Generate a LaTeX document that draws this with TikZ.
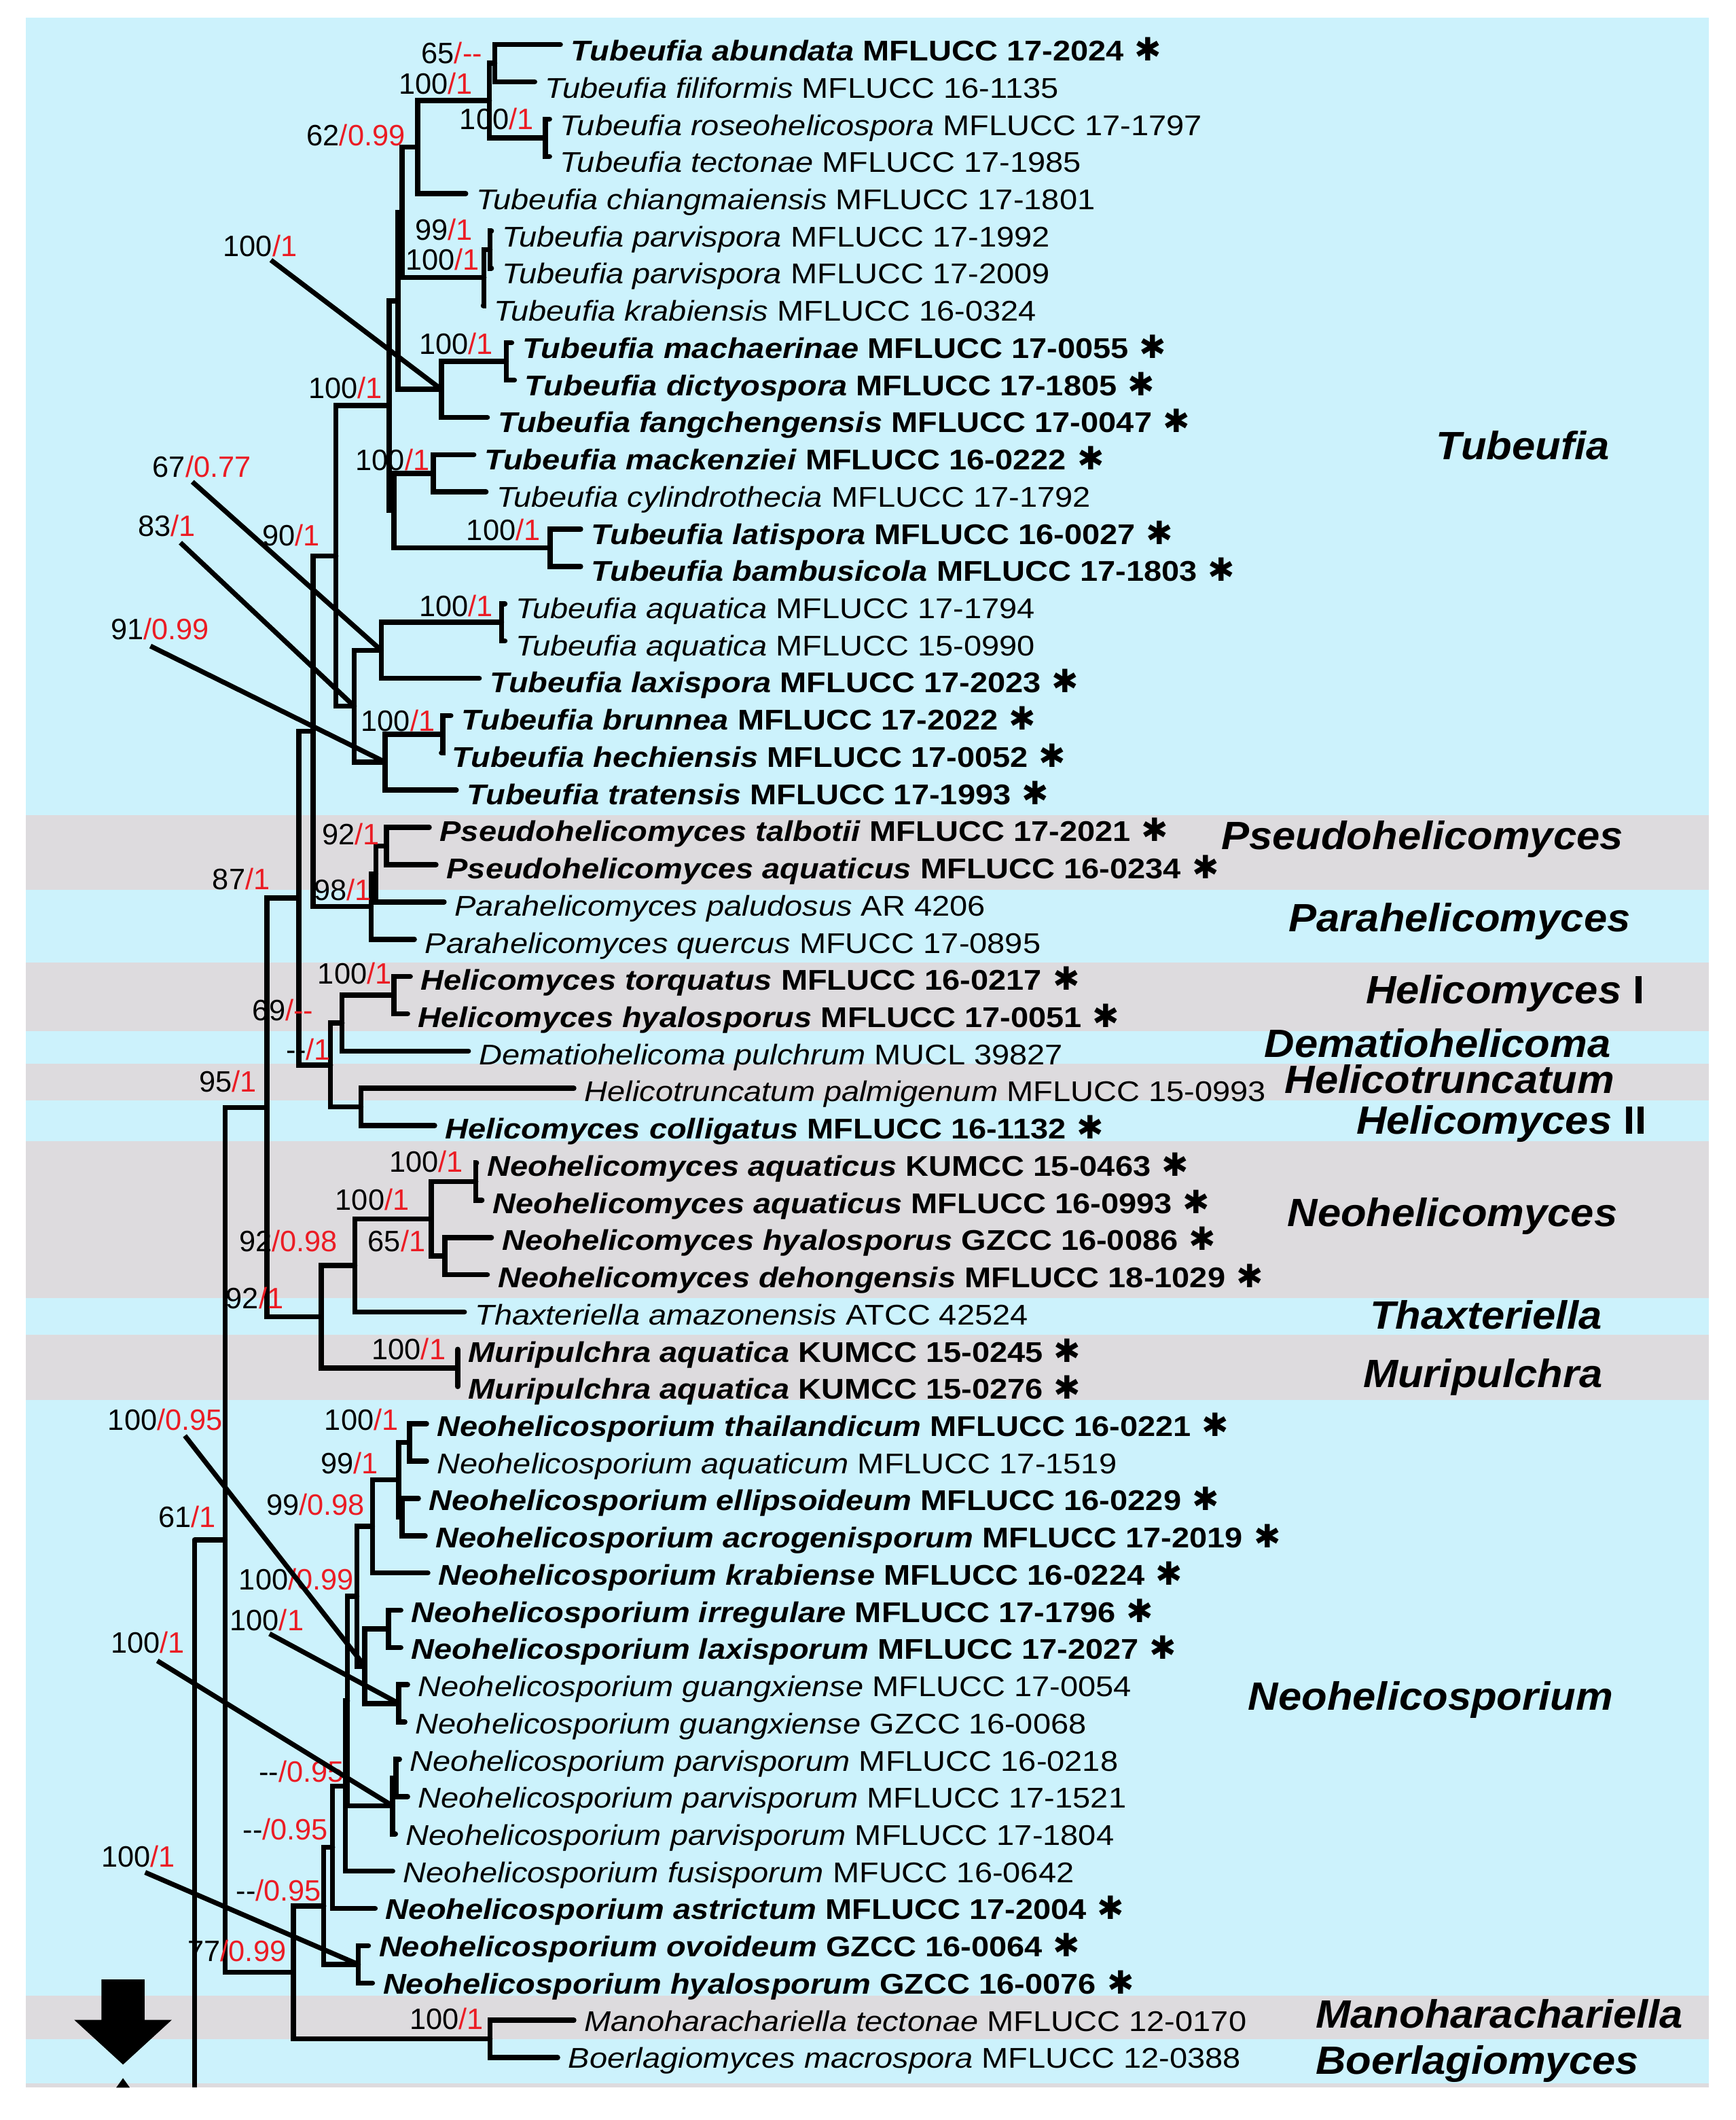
\documentclass[tikz,border=0pt]{standalone}
\usepackage{fontspec}
\setmainfont{Liberation Sans}
\newfontfamily\taxfont[FakeStretch=1.12]{Liberation Sans}
\newfontfamily\cladefont[FakeStretch=1.06]{Liberation Sans}
\newfontfamily\starfont{DejaVu Sans}
\usetikzlibrary{calc}
\definecolor{bandblue}{RGB}{204,242,252}
\definecolor{bandgray}{RGB}{221,219,222}
\definecolor{supred}{RGB}{235,28,36}
\newcommand{\rp}[1]{\textcolor{supred}{#1}}

\begin{document}
\begin{tikzpicture}[x=0.2mm, y=-0.2mm,
    branch/.style={line width=0.76mm, line cap=round},
    leader/.style={line width=0.72mm},
    taxon/.style={inner sep=0pt, anchor=base west, font=\taxfont\fontsize{12}{14}\selectfont},
    strong/.style={taxon, font=\taxfont\fontsize{12}{14}\selectfont\bfseries},
    support/.style={inner sep=0pt, anchor=east, font=\fontsize{12.4}{14}\selectfont},
    clade/.style={inner sep=0pt, anchor=base west, font=\cladefont\fontsize{16.6}{18}\selectfont\bfseries\itshape}]
  \useasboundingbox (0,0) rectangle (1284,1568);
  \fill[white] (0,0) rectangle (1284,1568);

  % genus bands
  \fill[bandblue] (19,13) rectangle (1264,1544);
  \foreach \ya/\yb in {603/658, 712/762.5, 787/814, 844/960, 987/1035.5, 1476/1508, 1540.6/1544}
    \fill[bandgray] (19,\ya) rectangle (1264,\yb);

  % taxa
  \foreach \n/\lx/\spec/\strain/\bo in {
      1/422/Tubeufia abundata/MFLUCC 17-2024/1,
      2/403/Tubeufia filiformis/MFLUCC 16-1135/0,
      3/414/Tubeufia roseohelicospora/MFLUCC 17-1797/0,
      4/414/Tubeufia tectonae/MFLUCC 17-1985/0,
      5/352/Tubeufia chiangmaiensis/MFLUCC 17-1801/0,
      6/371/Tubeufia parvispora/MFLUCC 17-1992/0,
      7/371/Tubeufia parvispora/MFLUCC 17-2009/0,
      8/365/Tubeufia krabiensis/MFLUCC 16-0324/0,
      9/386/Tubeufia machaerinae/MFLUCC 17-0055/1,
      10/388/Tubeufia dictyospora/MFLUCC 17-1805/1,
      11/368/Tubeufia fangchengensis/MFLUCC 17-0047/1,
      12/358/Tubeufia mackenziei/MFLUCC 16-0222/1,
      13/367/Tubeufia cylindrothecia/MFLUCC 17-1792/0,
      14/437/Tubeufia latispora/MFLUCC 16-0027/1,
      15/437/Tubeufia bambusicola/MFLUCC 17-1803/1,
      16/381/Tubeufia aquatica/MFLUCC 17-1794/0,
      17/381/Tubeufia aquatica/MFLUCC 15-0990/0,
      18/362/Tubeufia laxispora/MFLUCC 17-2023/1,
      19/341/Tubeufia brunnea/MFLUCC 17-2022/1,
      20/334/Tubeufia hechiensis/MFLUCC 17-0052/1,
      21/345/Tubeufia tratensis/MFLUCC 17-1993/1,
      22/325/Pseudohelicomyces talbotii/MFLUCC 17-2021/1,
      23/330/Pseudohelicomyces aquaticus/MFLUCC 16-0234/1,
      24/336/Parahelicomyces paludosus/AR 4206/0,
      25/314/Parahelicomyces quercus/MFUCC 17-0895/0,
      26/311/Helicomyces torquatus/MFLUCC 16-0217/1,
      27/309/Helicomyces hyalosporus/MFLUCC 17-0051/1,
      28/354/Dematiohelicoma pulchrum/MUCL 39827/0,
      29/432/Helicotruncatum palmigenum/MFLUCC 15-0993/0,
      30/329/Helicomyces colligatus/MFLUCC 16-1132/1,
      31/360/Neohelicomyces aquaticus/KUMCC 15-0463/1,
      32/364/Neohelicomyces aquaticus/MFLUCC 16-0993/1,
      33/371/Neohelicomyces hyalosporus/GZCC 16-0086/1,
      34/368/Neohelicomyces dehongensis/MFLUCC 18-1029/1,
      35/351/Thaxteriella amazonensis/ATCC 42524/0,
      36/346/Muripulchra aquatica/KUMCC 15-0245/1,
      37/346/Muripulchra aquatica/KUMCC 15-0276/1,
      38/323/Neohelicosporium thailandicum/MFLUCC 16-0221/1,
      39/323/Neohelicosporium aquaticum/MFLUCC 17-1519/0,
      40/317/Neohelicosporium ellipsoideum/MFLUCC 16-0229/1,
      41/322/Neohelicosporium acrogenisporum/MFLUCC 17-2019/1,
      42/324/Neohelicosporium krabiense/MFLUCC 16-0224/1,
      43/304/Neohelicosporium irregulare/MFLUCC 17-1796/1,
      44/304/Neohelicosporium laxisporum/MFLUCC 17-2027/1,
      45/309/Neohelicosporium guangxiense/MFLUCC 17-0054/0,
      46/307/Neohelicosporium guangxiense/GZCC 16-0068/0,
      47/303/Neohelicosporium parvisporum/MFLUCC 16-0218/0,
      48/309/Neohelicosporium parvisporum/MFLUCC 17-1521/0,
      49/300/Neohelicosporium parvisporum/MFLUCC 17-1804/0,
      50/298/Neohelicosporium fusisporum/MFUCC 16-0642/0,
      51/285/Neohelicosporium astrictum/MFLUCC 17-2004/1,
      52/280/Neohelicosporium ovoideum/GZCC 16-0064/1,
      53/283/Neohelicosporium hyalosporum/GZCC 16-0076/1,
      54/432/Manoharachariella tectonae/MFLUCC 12-0170/0,
      55/420/Boerlagiomyces macrospora/MFLUCC 12-0388/0}{
    \pgfmathsetmacro\ly{33+(\n-1)*27.57}
    \pgfmathsetmacro\by{\ly+12-0.075*(\n-1)}
    \coordinate (l\n) at (\lx-7.5,\ly);
    \ifnum\bo=1
      \node[strong] (t\n) at (\lx,\by) {\textit{\spec} \strain\hspace{1.6mm}{\starfont\fontsize{13.5}{14}\selectfont ✱}};
    \else
      \node[taxon] (t\n) at (\lx,\by) {\textit{\spec} \strain};
    \fi
  }

  % internal nodes
  \coordinate (nA) at (366,46.79);
  \coordinate (nB) at (403.5,101.93);
  \coordinate (nC) at (362,74.36);
  \coordinate (nD) at (309,108.82);
  \coordinate (nE) at (362.5,184.64);
  \coordinate (nF) at (358,205.3);
  \coordinate (nU1) at (297.5,157.06);
  \coordinate (nG) at (374.5,267.35);
  \coordinate (nH) at (326.5,288);
  \coordinate (nU2) at (294.5,222.5);
  \coordinate (nI) at (320.5,350.05);
  \coordinate (nJ) at (407,405.2);
  \coordinate (nL) at (291.5,377.6);
  \coordinate (nT) at (288,300.05);
  \coordinate (nK) at (371,460.3);
  \coordinate (nM) at (282,481);
  \coordinate (nN) at (327.5,543.05);
  \coordinate (nO) at (285,563.7);
  \coordinate (nP) at (262,522.35);
  \coordinate (nQ) at (248.5,411.2);
  \coordinate (nR) at (286,625.75);
  \coordinate (nS) at (278,646.4);
  \coordinate (nV) at (274.5,670.5);
  \coordinate (nW) at (231.5,540.9);
  \coordinate (nX) at (291.5,736);
  \coordinate (nY) at (253,756.7);
  \coordinate (nZ) at (267,818.7);
  \coordinate (nAA) at (244.5,787.7);
  \coordinate (nAB) at (221,664.3);
  \coordinate (nAC) at (352,873.9);
  \coordinate (nAD) at (329,929);
  \coordinate (nAE) at (319,901.5);
  \coordinate (nAF) at (262.5,935.9);
  \coordinate (nAG) at (338.5,1011.7);
  \coordinate (nAH) at (237.5,973.8);
  \coordinate (nAI) at (197.5,819.05);
  \coordinate (nAJ) at (303,1066.9);
  \coordinate (nAK) at (297.5,1122);
  \coordinate (nAL) at (295,1094.45);
  \coordinate (nAM) at (275.5,1128.9);
  \coordinate (nAN) at (287.5,1204.7);
  \coordinate (nAO) at (295,1259.9);
  \coordinate (nAP) at (269.8,1232.3);
  \coordinate (nAQ) at (264,1180.6);
  \coordinate (nAR) at (293,1315);
  \coordinate (nAS) at (290.5,1335.7);
  \coordinate (nAT) at (257,1258.1);
  \coordinate (nAU) at (255.5,1321);
  \coordinate (nAV) at (246,1366.25);
  \coordinate (nAW) at (265,1452.9);
  \coordinate (nAX) at (239.5,1409.6);
  \coordinate (nAY) at (362.5,1508);
  \coordinate (nAZ) at (217,1458.8);
  \coordinate (nBA) at (166.5,1138.9);
  \coordinate (rt) at (144,1138.9);
  \coordinate (rtend) at (144,1544);

  % branches
  \foreach \p/\c in {nA/l1, nA/l2, nB/l3, nB/l4, nC/nA, nC/nB, nD/nC, nD/l5,
      nE/l6, nE/l7, nF/nE, nF/l8, nU1/nD, nU1/nF, nG/l9, nG/l10, nH/nG, nH/l11,
      nU2/nU1, nU2/nH, nI/l12, nI/l13, nJ/l14, nJ/l15, nL/nI, nL/nJ, nT/nU2, nT/nL,
      nK/l16, nK/l17, nM/nK, nM/l18, nN/l19, nN/l20, nO/nN, nO/l21, nP/nM, nP/nO,
      nQ/nT, nQ/nP, nR/l22, nR/l23, nS/nR, nS/l24, nV/nS, nV/l25, nW/nQ, nW/nV,
      nX/l26, nX/l27, nY/nX, nY/l28, nZ/l29, nZ/l30, nAA/nY, nAA/nZ, nAB/nW, nAB/nAA,
      nAC/l31, nAC/l32, nAD/l33, nAD/l34, nAE/nAC, nAE/nAD, nAF/nAE, nAF/l35,
      nAG/l36, nAG/l37, nAH/nAF, nAH/nAG, nAI/nAB, nAI/nAH,
      nAJ/l38, nAJ/l39, nAK/l40, nAK/l41, nAL/nAJ, nAL/nAK, nAM/nAL, nAM/l42,
      nAN/l43, nAN/l44, nAO/l45, nAO/l46, nAP/nAN, nAP/nAO, nAQ/nAM, nAQ/nAP,
      nAR/l47, nAR/l48, nAS/nAR, nAS/l49, nAT/nAQ, nAT/nAS, nAU/nAT, nAU/l50,
      nAV/nAU, nAV/l51, nAW/l52, nAW/l53, nAX/nAV, nAX/nAW, nAY/l54, nAY/l55,
      nAZ/nAX, nAZ/nAY, nBA/nAI, nBA/nAZ}
    \draw[branch] (\p) |- (\c);
  \draw[branch] (nBA) -- (rt);
  \draw[branch, line cap=butt] (rt) -- (rtend);

  % support values
  \foreach \nm/\rx/\cy/\bk/\rd in {
      sA/357/39/65/{-{}-}, sC/350/62/100/1, sB/395/88/100/1, sD/300/100/62/0.99,
      sE/350/170/99/1, sF/355/192/100/1, sH/220/182/100/1, sG/365/254/100/1,
      sT/283/287/100/1, sI/318/340/100/1, sM/186/345/67/0.77, sP/145/389/83/1,
      sQ/237/396/90/1, sJ/400/392/100/1, sK/365/448/100/1, sO/155/465/91/0.99,
      sN/322/533/100/1, sR/281/617/92/1, sAB/200/650/87/1, sV/275/658/98/1,
      sX/290/720/100/1, sY/232/747/69/{-{}-}, sAA/245/776/{-{}-}/1, sAI/190/800/95/1,
      sAC/343/859/100/1, sAE/303/887/100/1, sAF/250/918/92/0.98, sAD/315/918/65/1,
      sAH/210/960/92/1, sAG/330/998/100/1, sAP/165/1050/100/0.95, sAJ/295/1050/100/1,
      sAL/280/1082/99/1, sBA/160/1122/61/1, sAM/270/1113/99/0.98, sAQ/262/1168/100/0.99,
      sAO/225/1198/100/1, sAS/137/1215/100/1, sAU/255/1310/{-{}-}/0.95,
      sAV/243/1353/{-{}-}/0.95, sAW/130/1373/100/1, sAX/238/1398/{-{}-}/0.95,
      sAZ/212/1443/77/0.99, sAY/358/1493/100/1}
    \node[support] (\nm) at (\rx,\cy) {\bk\rp{/\rd}};

  % leader lines from the support values to their nodes
  \draw[leader] ($(sH.south)+(8,2)$) -- (nH);
  \draw[leader] ($(sM.south)+(-7,3)$) -- (nM);
  \draw[leader] ($(sP.south)+(10,4)$) -- (nP);
  \draw[leader] ($(sO.south)+(-7,4.5)$) -- (nO);
  \draw[leader] ($(sAP.south)+(14.5,3.5)$) -- (nAP);
  \draw[leader] ($(sAO.south)+(2,2)$) -- (nAO);
  \draw[leader] ($(sAS.south)+(7,5)$) -- (nAS);
  \draw[leader] ($(sAW.south)+(5,3.5)$) -- (nAW);

  % genus names
  \node[clade] (cTub) at (1062,340) {Tubeufia};
  \node[clade] (cPse) at (903,628) {Pseudohelicomyces};
  \node[clade] (cPar) at (953,689) {Parahelicomyces};
  \node[clade] (cHe1) at (1010,742.5) {Helicomyces {\upshape I}};
  \node[clade] (cDem) at (935,782) {Dematiohelicoma};
  \node[clade] (cHtr) at (950,808.5) {Helicotruncatum};
  \node[clade] (cHe2) at (1003,839) {Helicomyces {\upshape II}};
  \node[clade] (cNmy) at (952,907) {Neohelicomyces};
  \node[clade] (cTha) at (1013,983) {Thaxteriella};
  \node[clade] (cMur) at (1008,1026) {Muripulchra};
  \node[clade] (cNsp) at (923,1265) {Neohelicosporium};
  \node[clade] (cMan) at (973,1500) {Manoharachariella};
  \node[clade] (cBoe) at (973,1534) {Boerlagiomyces};

  % continuation arrow
  \fill (75,1464) -- (107,1464) -- (107,1494) -- (127,1494) -- (91,1527)
    -- (55,1494) -- (75,1494) -- cycle;
  \fill (86,1544) -- (91,1537) -- (96,1544) -- cycle;
\end{tikzpicture}
\end{document}
